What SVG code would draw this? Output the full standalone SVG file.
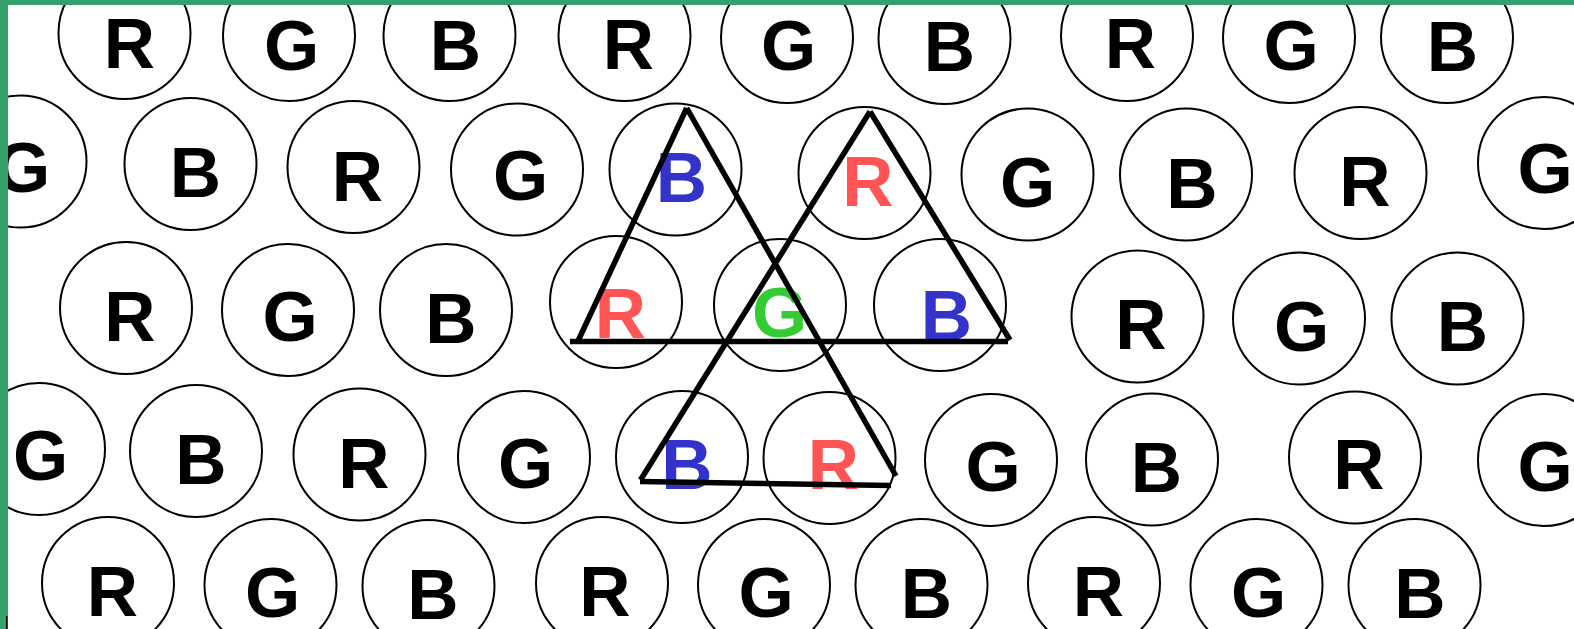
<svg xmlns="http://www.w3.org/2000/svg" width="1574" height="629" viewBox="0 0 1574 629">
<style>
.c{fill:none;stroke:#000;stroke-width:2}
.t{font-family:"Liberation Sans",Arial,sans-serif;font-weight:bold;font-size:71px;text-anchor:middle;fill:#000}
.r{fill:#ff5555}.g{fill:#33cc33}.b{fill:#3333cc}
.ln{stroke:#000;stroke-width:5.5;fill:none}
</style>
<rect width="1574" height="629" fill="#fff"/>
<g id="row1">
<g id="n1_1"><circle class="c" cx="124.5" cy="33" r="66"/><text class="t" x="129.5" y="68">R</text></g>
<g id="n1_2"><circle class="c" cx="289" cy="35" r="66"/><text class="t" x="291.5" y="70">G</text></g>
<g id="n1_3"><circle class="c" cx="449.5" cy="35" r="66"/><text class="t" x="455.5" y="70">B</text></g>
<g id="n1_4"><circle class="c" cx="624.5" cy="35" r="66"/><text class="t" x="628.5" y="69">R</text></g>
<g id="n1_5"><circle class="c" cx="787" cy="37" r="66"/><text class="t" x="788.5" y="70">G</text></g>
<g id="n1_6"><circle class="c" cx="944.5" cy="38" r="66"/><text class="t" x="949.5" y="71">B</text></g>
<g id="n1_7"><circle class="c" cx="1127" cy="35" r="66"/><text class="t" x="1130.5" y="68">R</text></g>
<g id="n1_8"><circle class="c" cx="1289" cy="37" r="66"/><text class="t" x="1291" y="70">G</text></g>
<g id="n1_9"><circle class="c" cx="1447" cy="37" r="66"/><text class="t" x="1452.5" y="71">B</text></g>
</g>
<g id="row2">
<g id="n2_1"><circle class="c" cx="20.5" cy="161.5" r="66"/><text class="t" x="22.5" y="192">G</text></g>
<g id="n2_2"><circle class="c" cx="190.5" cy="164" r="66"/><text class="t" x="195.5" y="197">B</text></g>
<g id="n2_3"><circle class="c" cx="353.5" cy="167" r="66"/><text class="t" x="357.5" y="201">R</text></g>
<g id="n2_4"><circle class="c" cx="517" cy="169.5" r="66"/><text class="t" x="520.5" y="200">G</text></g>
<g id="n2_5"><circle class="c" cx="675.5" cy="169.5" r="66"/><text class="t b" x="681.5" y="202">B</text></g>
<g id="n2_6"><circle class="c" cx="864.5" cy="173" r="66"/><text class="t r" x="868" y="206">R</text></g>
<g id="n2_7"><circle class="c" cx="1027.5" cy="174.5" r="66"/><text class="t" x="1027.5" y="207">G</text></g>
<g id="n2_8"><circle class="c" cx="1186" cy="174.5" r="66"/><text class="t" x="1192" y="208">B</text></g>
<g id="n2_9"><circle class="c" cx="1360.5" cy="173" r="66"/><text class="t" x="1365" y="206">R</text></g>
<g id="n2_10"><circle class="c" cx="1544" cy="163" r="66"/><text class="t" x="1545" y="193">G</text></g>
</g>
<g id="row3">
<g id="n3_1"><circle class="c" cx="126" cy="308" r="66"/><text class="t" x="130" y="341">R</text></g>
<g id="n3_2"><circle class="c" cx="288" cy="310" r="66"/><text class="t" x="290" y="341">G</text></g>
<g id="n3_3"><circle class="c" cx="446" cy="310" r="66"/><text class="t" x="451" y="343">B</text></g>
<g id="n3_4"><circle class="c" cx="616" cy="302" r="66"/><text class="t r" x="620.5" y="338">R</text></g>
<g id="n3_5"><circle class="c" cx="780" cy="305" r="66"/><text class="t g" x="779.5" y="337">G</text></g>
<g id="n3_6"><circle class="c" cx="940" cy="305" r="66"/><text class="t b" x="946.5" y="340">B</text></g>
<g id="n3_7"><circle class="c" cx="1137.5" cy="316.5" r="66"/><text class="t" x="1141" y="349">R</text></g>
<g id="n3_8"><circle class="c" cx="1299" cy="318.5" r="66"/><text class="t" x="1301.5" y="351">G</text></g>
<g id="n3_9"><circle class="c" cx="1457.5" cy="318.5" r="66"/><text class="t" x="1462.5" y="351">B</text></g>
</g>
<g id="row4">
<g id="n4_1"><circle class="c" cx="39" cy="449" r="66"/><text class="t" x="40.5" y="480">G</text></g>
<g id="n4_2"><circle class="c" cx="196" cy="451" r="66"/><text class="t" x="201" y="484">B</text></g>
<g id="n4_3"><circle class="c" cx="359.5" cy="454.5" r="66"/><text class="t" x="364" y="488">R</text></g>
<g id="n4_4"><circle class="c" cx="524" cy="457" r="66"/><text class="t" x="525.5" y="488">G</text></g>
<g id="n4_5"><circle class="c" cx="682" cy="457" r="66"/><text class="t b" x="687" y="489">B</text></g>
<g id="n4_6"><circle class="c" cx="829.5" cy="458" r="66"/><text class="t r" x="833.5" y="489">R</text></g>
<g id="n4_7"><circle class="c" cx="991" cy="460" r="66"/><text class="t" x="993" y="491">G</text></g>
<g id="n4_8"><circle class="c" cx="1152" cy="459.5" r="66"/><text class="t" x="1156.5" y="492">B</text></g>
<g id="n4_9"><circle class="c" cx="1355" cy="457.5" r="66"/><text class="t" x="1359" y="489">R</text></g>
<g id="n4_10"><circle class="c" cx="1544" cy="460" r="66"/><text class="t" x="1545" y="491">G</text></g>
</g>
<g id="row5">
<g id="n5_1"><circle class="c" cx="108" cy="583" r="66"/><text class="t" x="112.5" y="616">R</text></g>
<g id="n5_2"><circle class="c" cx="270.5" cy="585" r="66"/><text class="t" x="272.5" y="617">G</text></g>
<g id="n5_3"><circle class="c" cx="428.5" cy="586" r="66"/><text class="t" x="433" y="619">B</text></g>
<g id="n5_4"><circle class="c" cx="602" cy="583" r="66"/><text class="t" x="605" y="616">R</text></g>
<g id="n5_5"><circle class="c" cx="764" cy="585" r="66"/><text class="t" x="766" y="617">G</text></g>
<g id="n5_6"><circle class="c" cx="921.5" cy="585" r="66"/><text class="t" x="926.5" y="618">B</text></g>
<g id="n5_7"><circle class="c" cx="1094" cy="583" r="66"/><text class="t" x="1098.5" y="616">R</text></g>
<g id="n5_8"><circle class="c" cx="1256.5" cy="585" r="66"/><text class="t" x="1258.5" y="617">G</text></g>
<g id="n5_9"><circle class="c" cx="1414.5" cy="585" r="66"/><text class="t" x="1420" y="618">B</text></g>
</g>
<g id="connectors">
<line class="ln" x1="686.7" y1="108" x2="578" y2="341"/>
<line class="ln" x1="686.7" y1="108" x2="896" y2="476"/>
<line class="ln" x1="870" y1="111.5" x2="1010" y2="340"/>
<line class="ln" x1="870" y1="111.5" x2="640.5" y2="480"/>
<line class="ln" x1="570" y1="341.5" x2="1008" y2="341.5"/>
<line class="ln" x1="640" y1="481.5" x2="891" y2="485.5"/>
</g>
<g id="frame">
<rect x="0" y="0" width="1574" height="5" fill="#35a06b"/>
<rect x="0" y="0" width="8" height="629" fill="#35a06b"/>
<rect x="6" y="616" width="1.5" height="13" fill="#000"/>
</g>
</svg>
